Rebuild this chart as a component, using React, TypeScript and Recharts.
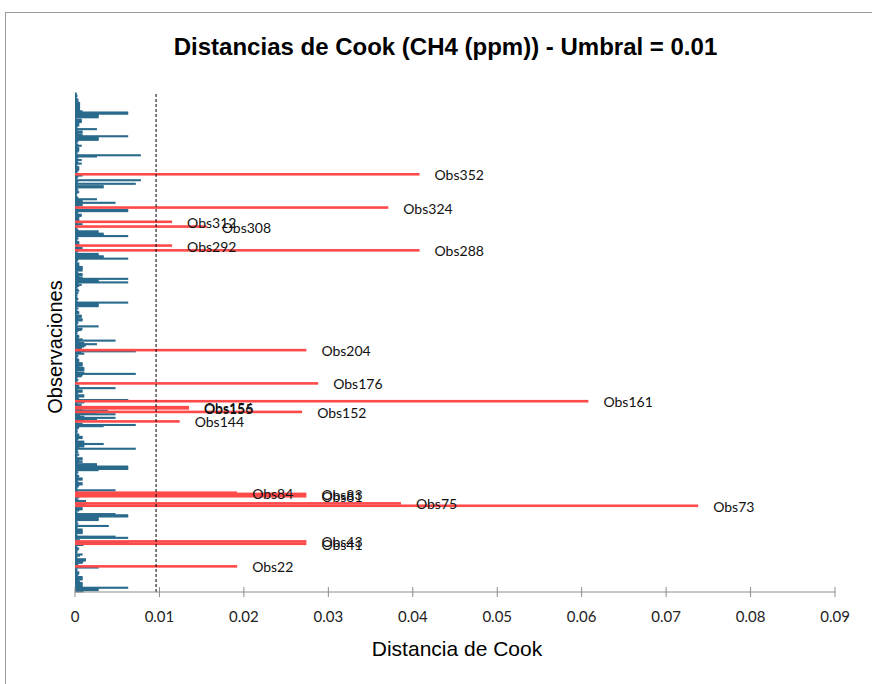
import { Bar, BarChart, LabelList, ReferenceLine, XAxis, YAxis } from "recharts";

const cookValues = [
  0.0010, 0.0028, 0.0028, 0.0063, 0.0009, 0.0009, 0.0009, 0.0009, 0.0006, 0.0005,
  0.0009, 0.0009, 0.0009, 0.0003, 0.0004, 0.0005, 0.0005, 0.0002, 0.0003, 0.0002,
  0.0028, 0.0192, 0.0002, 0.0004, 0.0009, 0.0010, 0.0013, 0.0013, 0.0003, 0.0002,
  0.0006, 0.0009, 0.0002, 0.0003, 0.0002, 0.0004, 0.0005, 0.0003, 0.0002, 0.0010,
  0.0274, 0.0063, 0.0274, 0.0006, 0.0002, 0.0063, 0.0048, 0.0003, 0.0002, 0.0009,
  0.0009, 0.0009, 0.0009, 0.0003, 0.0003, 0.0040, 0.0002, 0.0004, 0.0002, 0.0003,
  0.0028, 0.0028, 0.0028, 0.0063, 0.0063, 0.0048, 0.0003, 0.0002, 0.0005, 0.0009,
  0.0009, 0.0003, 0.0738, 0.0013, 0.0386, 0.0003, 0.0013, 0.0004, 0.0002, 0.0005,
  0.0274, 0.0009, 0.0274, 0.0192, 0.0003, 0.0048, 0.0003, 0.0002, 0.0004, 0.0005,
  0.0009, 0.0009, 0.0004, 0.0003, 0.0009, 0.0009, 0.0004, 0.0005, 0.0003, 0.0002,
  0.0004, 0.0003, 0.0028, 0.0063, 0.0063, 0.0063, 0.0026, 0.0026, 0.0004, 0.0009,
  0.0005, 0.0009, 0.0009, 0.0002, 0.0003, 0.0005, 0.0002, 0.0004, 0.0003, 0.0003,
  0.0072, 0.0005, 0.0011, 0.0011, 0.0034, 0.0011, 0.0011, 0.0003, 0.0004, 0.0009,
  0.0009, 0.0005, 0.0005, 0.0002, 0.0003, 0.0003, 0.0002, 0.0004, 0.0005, 0.0034,
  0.0072, 0.0009, 0.0003, 0.0124, 0.0011, 0.0026, 0.0048, 0.0011, 0.0006, 0.0048,
  0.0026, 0.0269, 0.0039, 0.0009, 0.0135, 0.0135, 0.0005, 0.0008, 0.0003, 0.0011,
  0.0608, 0.0063, 0.0005, 0.0004, 0.0011, 0.0011, 0.0003, 0.0004, 0.0009, 0.0009,
  0.0003, 0.0048, 0.0005, 0.0005, 0.0002, 0.0288, 0.0003, 0.0002, 0.0004, 0.0002,
  0.0003, 0.0008, 0.0009, 0.0072, 0.0011, 0.0003, 0.0011, 0.0011, 0.0011, 0.0005,
  0.0009, 0.0009, 0.0009, 0.0004, 0.0005, 0.0005, 0.0003, 0.0002, 0.0004, 0.0002,
  0.0011, 0.0008, 0.0072, 0.0274, 0.0008, 0.0008, 0.0011, 0.0013, 0.0026, 0.0011,
  0.0005, 0.0048, 0.0009, 0.0004, 0.0005, 0.0005, 0.0002, 0.0003, 0.0002, 0.0004,
  0.0008, 0.0009, 0.0003, 0.0028, 0.0002, 0.0003, 0.0004, 0.0003, 0.0009, 0.0009,
  0.0004, 0.0008, 0.0008, 0.0002, 0.0005, 0.0005, 0.0003, 0.0002, 0.0004, 0.0002,
  0.0028, 0.0028, 0.0028, 0.0063, 0.0003, 0.0002, 0.0004, 0.0003, 0.0002, 0.0003,
  0.0002, 0.0004, 0.0002, 0.0005, 0.0004, 0.0002, 0.0003, 0.0005, 0.0008, 0.0004,
  0.0063, 0.0028, 0.0028, 0.0063, 0.0009, 0.0005, 0.0009, 0.0009, 0.0004, 0.0003,
  0.0009, 0.0009, 0.0009, 0.0009, 0.0005, 0.0005, 0.0005, 0.0002, 0.0003, 0.0004,
  0.0063, 0.0034, 0.0034, 0.0028, 0.0028, 0.0002, 0.0004, 0.0408, 0.0003, 0.0009,
  0.0004, 0.0115, 0.0005, 0.0005, 0.0005, 0.0002, 0.0003, 0.0004, 0.0003, 0.0063,
  0.0034, 0.0034, 0.0028, 0.0028, 0.0004, 0.0002, 0.0003, 0.0156, 0.0004, 0.0009,
  0.0003, 0.0115, 0.0005, 0.0005, 0.0005, 0.0005, 0.0008, 0.0008, 0.0003, 0.0004,
  0.0063, 0.0063, 0.0003, 0.0371, 0.0004, 0.0009, 0.0009, 0.0048, 0.0009, 0.0009,
  0.0026, 0.0004, 0.0003, 0.0002, 0.0002, 0.0003, 0.0005, 0.0002, 0.0004, 0.0003,
  0.0034, 0.0034, 0.0003, 0.0072, 0.0003, 0.0004, 0.0078, 0.0002, 0.0003, 0.0004,
  0.0009, 0.0408, 0.0002, 0.0003, 0.0004, 0.0005, 0.0005, 0.0005, 0.0002, 0.0003,
  0.0008, 0.0004, 0.0003, 0.0008, 0.0002, 0.0004, 0.0026, 0.0078, 0.0003, 0.0002,
  0.0004, 0.0005, 0.0005, 0.0005, 0.0003, 0.0008, 0.0004, 0.0002, 0.0003, 0.0004,
  0.0028, 0.0028, 0.0028, 0.0063, 0.0009, 0.0004, 0.0009, 0.0009, 0.0003, 0.0026,
  0.0002, 0.0003, 0.0005, 0.0005, 0.0005, 0.0008, 0.0008, 0.0008, 0.0002, 0.0028,
  0.0028, 0.0028, 0.0063, 0.0063, 0.0009, 0.0006, 0.0006, 0.0006, 0.0006, 0.0006,
  0.0006, 0.0006, 0.0004, 0.0004, 0.0004, 0.0002, 0.0002, 0.0003, 0.0002, 0.0002,
];

const xTicks = [0, 0.01, 0.02, 0.03, 0.04, 0.05, 0.06, 0.07, 0.08, 0.09];
const threshold = 0.0096; // 4/n, shown rounded as 0.01 in the title
const title = "Distancias de Cook (CH4 (ppm)) - Umbral = 0.01";
const xTitle = "Distancia de Cook";
const yTitle = "Observaciones";

const BLUE = "#2a6a8c";
const RED = "#ff4a4a";
const GREY = "#8c8c8c";

// two series on separate category axes so red (influential) bars are painted on top
const data = cookValues.map((v, i) => ({
  obs: `Obs${i + 1}`,
  low: v > threshold ? null : v,
  high: v > threshold ? v : null,
  tag: v > threshold ? `Obs${i + 1}` : "",
}));

const fmt = (v: number) => (v === 0 ? "0" : v.toFixed(2));

// bands are ~1.2px tall; draw each bar a bit thicker around its band centre, as Excel does
const thickBar = (thickness: number, color: string) => (props: any) => {
  const { x, y, width, height } = props;
  if (!width || width <= 0) return <g />;
  return <rect x={x} y={y + height / 2 - thickness / 2} width={width} height={thickness} fill={color} />;
};

const XTick = ({ x, y, payload }: any) => (
  <g transform={`translate(${x},${y})`}>
    <line x1={0} x2={0} y1={-10} y2={0} stroke={GREY} />
    <text x={0} y={25} textAnchor="middle" fontFamily="Lato" fontSize={15} fill="#222">
      {fmt(payload.value)}
    </text>
  </g>
);

const ObsLabel = (props: any) => {
  const { x, y, width, height, value } = props;
  if (!value) return null;
  return (
    <text x={x + width + 15} y={y + height / 2 + 6} fontFamily="Lato" fontSize={14} fill="#111">
      {value}
    </text>
  );
};

export default function App() {
  return (
    <div style={{ position: "absolute", left: 0, top: 0, width: 872, height: 684, overflow: "hidden", background: "#fff" }}>
      <div style={{ position: "absolute", left: 5, top: 12, width: 900, height: 700, border: "1px solid #9a9a9a" }} />
      <div
        style={{
          position: "absolute", left: 0, width: 891, top: 47, transform: "translateY(-50%)",
          textAlign: "center", fontFamily: "Liberation Sans", fontWeight: "bold", fontSize: 24, lineHeight: 1,
        }}
      >
        {title}
      </div>
      <div
        style={{
          position: "absolute", left: 0, width: 914, top: 648, transform: "translateY(-50%)",
          textAlign: "center", fontFamily: "Liberation Sans", fontSize: 21, lineHeight: 1,
        }}
      >
        {xTitle}
      </div>
      <div
        style={{
          position: "absolute", left: 55, top: 347, transform: "translate(-50%,-50%) rotate(-90deg)",
          fontFamily: "Liberation Sans", fontSize: 20, lineHeight: 1, whiteSpace: "nowrap",
        }}
      >
        {yTitle}
      </div>
      <BarChart
        width={872}
        height={684}
        data={data}
        layout="vertical"
        barCategoryGap={0}
        margin={{ top: 93, right: 37, bottom: 62, left: 75 }}
        style={{ position: "absolute", left: 0, top: 0 }}
      >
        <XAxis
          type="number"
          domain={[0, 0.09]}
          ticks={xTicks}
          interval={0}
          height={30}
          tickSize={5}
          tickMargin={0}
          tickLine={false}
          axisLine={{ stroke: GREY }}
          tick={<XTick />}
        />
        <XAxis xAxisId="top" orientation="top" type="number" domain={[0, 0.09]} height={0} tick={false} tickLine={false} axisLine={{ stroke: "#d0d0d0" }} />
        <YAxis type="category" dataKey="obs" reversed width={0} tick={false} tickLine={false} axisLine={{ stroke: GREY }} />
        <YAxis yAxisId="right" orientation="right" type="category" dataKey="obs" reversed width={0} tick={false} tickLine={false} axisLine={{ stroke: "#d0d0d0" }} />
        <Bar dataKey="low" fill={BLUE} shape={thickBar(2.1, BLUE)} isAnimationActive={false} />
        <Bar dataKey="high" yAxisId="right" fill={RED} shape={thickBar(2.6, RED)} isAnimationActive={false}>
          <LabelList dataKey="tag" content={ObsLabel} />
        </Bar>
        <ReferenceLine x={threshold} stroke="#000" strokeDasharray="3 2" />
      </BarChart>
    </div>
  );
}
